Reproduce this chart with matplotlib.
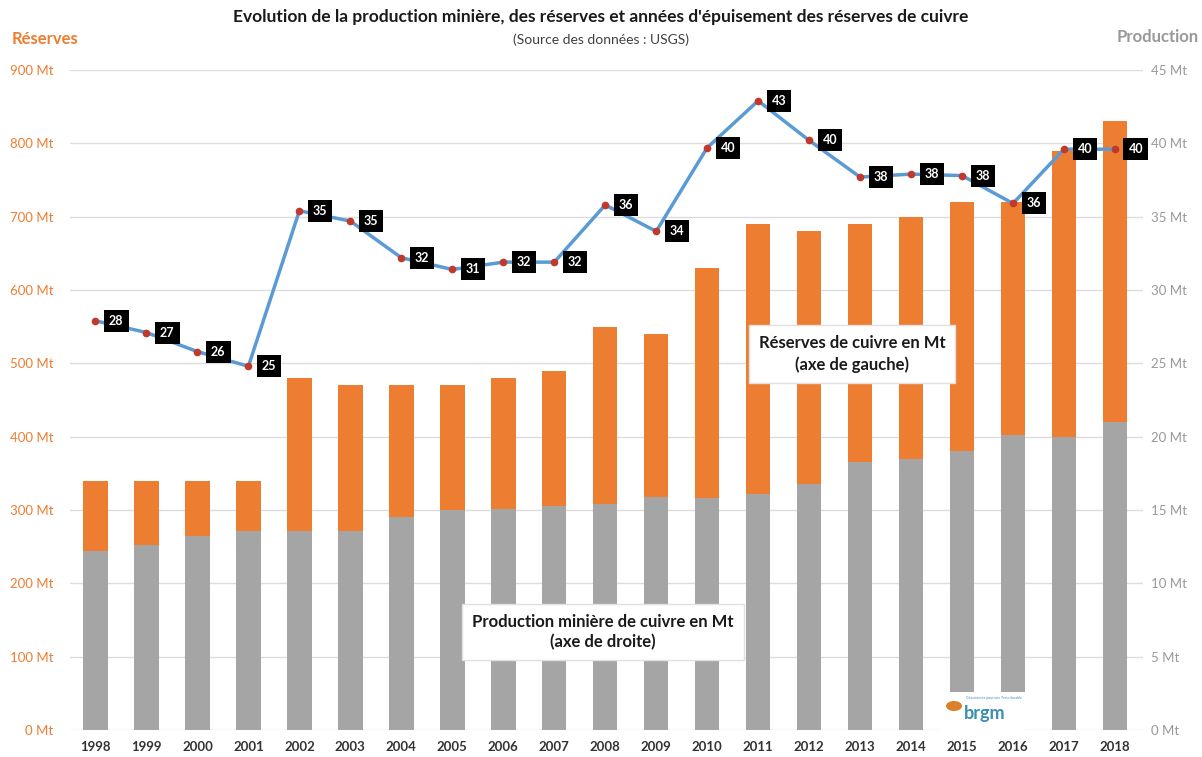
import matplotlib
matplotlib.use("Agg")
import matplotlib.pyplot as plt
from matplotlib.patches import Rectangle, Circle

plt.rcParams['font.family'] = ['Lato', 'DejaVu Sans']

# data
years = [str(y) for y in range(1998, 2019)]
reserves = [340, 340, 340, 340, 480, 470, 470, 470, 480, 490, 550, 540, 630, 690, 680, 690, 700, 720, 720, 790, 830]
production = [12.2, 12.6, 13.2, 13.6, 13.6, 13.6, 14.5, 15.0, 15.1, 15.3, 15.4, 15.9, 15.8, 16.1, 16.8, 18.3, 18.5, 19.0, 20.1, 20.0, 21.0]
years_left = [27.9, 27.1, 25.8, 24.8, 35.4, 34.7, 32.2, 31.4, 31.9, 31.9, 35.8, 34.0, 39.7, 42.9, 40.2, 37.7, 37.9, 37.8, 35.9, 39.6, 39.6]
years_lbl = [28, 27, 26, 25, 35, 35, 32, 31, 32, 32, 36, 34, 40, 43, 40, 38, 38, 38, 36, 40, 40]
left_ticks = [0, 100, 200, 300, 400, 500, 600, 700, 800, 900]
right_ticks = [0, 5, 10, 15, 20, 25, 30, 35, 40, 45]

orange = '#ED7D31'
grey = '#A5A5A5'

fig = plt.figure(figsize=(12.02, 7.57), dpi=100)
ax = fig.add_axes([70/1202, 27/757, (1143-70)/1202, 660/757])
x = list(range(len(years)))

ax.bar(x, reserves, width=0.48, color=orange, zorder=2)
ax.set_ylim(0, 900)
ax.set_xlim(-0.5, 20.55)
ax.set_yticks(left_ticks)
ax.set_yticklabels([f"{v} Mt" for v in left_ticks], color=orange, fontsize=9.5)
ax.grid(axis='y', color='#DDDDDD', lw=1)
ax.set_axisbelow(True)
ax.set_xticks(x)
ax.set_xticklabels(years, fontsize=9.5, fontweight='bold', color='#333333')
ax.tick_params(length=0)
ax.tick_params(axis='y', pad=12)
ax.tick_params(axis='x', pad=8)
for s in ax.spines.values():
    s.set_visible(False)

ax2 = ax.twinx()
ax2.bar(x, production, width=0.48, color=grey, zorder=1)
ax2.set_ylim(0, 45)
ax2.set_yticks(right_ticks)
ax2.set_yticklabels([f"{v} Mt" for v in right_ticks], color='#999999', fontsize=9.5)
ax2.tick_params(length=0, pad=6)
for s in ax2.spines.values():
    s.set_visible(False)

ax2.plot(x, years_left, color='#5B9BD5', lw=2.5, zorder=3)
ax2.plot(x, years_left, 'o', color='#C0392B', ms=4.5, zorder=4)
for xi, yi, lb in zip(x, years_left, years_lbl):
    ax2.annotate(str(lb), (xi, yi), xytext=(15, 0), textcoords='offset points',
                 ha='center', va='center', color='white', fontsize=9, fontweight='bold',
                 bbox=dict(boxstyle='square,pad=0.4', fc='black', ec='none'), zorder=5)

# annotation boxes
fig.text(852/1202, 1 - 354/757, "Réserves de cuivre en Mt\n(axe de gauche)", ha='center', va='center',
         fontsize=12, fontweight='bold', color='#1a1a1a', linespacing=1.35, zorder=10,
         bbox=dict(boxstyle='square,pad=0.6', fc='white', ec='#E0E0E0', lw=1))
fig.text(603/1202, 1 - 632/757, "Production minière de cuivre en Mt\n(axe de droite)", ha='center', va='center',
         fontsize=12, fontweight='bold', color='#1a1a1a', linespacing=1.35, zorder=10,
         bbox=dict(boxstyle='square,pad=0.6', fc='white', ec='#E0E0E0', lw=1))

# brgm logo
fig.patches.append(Rectangle((940/1202, 27/757), 85/1202, 38/757, transform=fig.transFigure,
                             fc='white', ec='none', zorder=8))
fig.patches.append(Circle((954/1202, 1 - 706/757), 8/1202, transform=fig.transFigure,
                          fc='#D9822B', ec='none', zorder=9))
fig.text(964/1202, 1 - 713/757, "brgm", fontsize=13, fontweight='bold', color='#3A8FB0',
         ha='left', va='center', zorder=10)
fig.text(966/1202, 1 - 698/757, "Géosciences pour une Terre durable", fontsize=2.5, color='#3A8FB0',
         ha='left', va='center', zorder=10)

# titles
fig.text(0.5, 1 - 17/757, "Evolution de la production minière, des réserves et années d'épuisement des réserves de cuivre",
         ha='center', va='center', fontsize=12.5, fontweight='bold', color='#1a1a1a')
fig.text(0.5, 1 - 40/757, "(Source des données : USGS)", ha='center', va='center', fontsize=10, color='#404040')
fig.text(12/1202, 1 - 39/757, "Réserves", ha='left', va='center', fontsize=12, fontweight='bold', color=orange)
fig.text(1199/1202, 1 - 37/757, "Production", ha='right', va='center', fontsize=12, fontweight='bold', color='#999999')

fig.savefig("out.png", dpi=100)
